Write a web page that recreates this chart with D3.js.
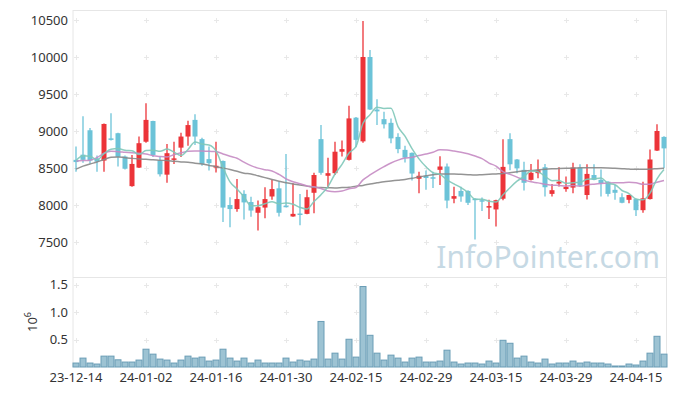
<!DOCTYPE html>
<html>
<head>
<meta charset="utf-8">
<script src="https://cdn.jsdelivr.net/npm/d3@7"></script>
<style>
  body { margin: 0; background: #fff; }
  text { font-family: "Noto Sans", sans-serif; }
</style>
</head>
<body>
<div id="chart"></div>
<script>
// trading days
const dates = [
  "23-12-14","23-12-15","23-12-18","23-12-19","23-12-20","23-12-21","23-12-22","23-12-26","23-12-27","23-12-28",
  "24-01-02","24-01-03","24-01-04","24-01-05","24-01-08","24-01-09","24-01-10","24-01-11","24-01-12","24-01-15",
  "24-01-16","24-01-17","24-01-18","24-01-19","24-01-22","24-01-23","24-01-24","24-01-25","24-01-26","24-01-29",
  "24-01-30","24-01-31","24-02-01","24-02-02","24-02-05","24-02-06","24-02-07","24-02-08","24-02-13","24-02-14",
  "24-02-15","24-02-16","24-02-19","24-02-20","24-02-21","24-02-22","24-02-23","24-02-26","24-02-27","24-02-28",
  "24-02-29","24-03-04","24-03-05","24-03-06","24-03-07","24-03-08","24-03-11","24-03-12","24-03-13","24-03-14",
  "24-03-15","24-03-18","24-03-19","24-03-20","24-03-21","24-03-22","24-03-25","24-03-26","24-03-27","24-03-28",
  "24-03-29","24-04-01","24-04-02","24-04-03","24-04-04","24-04-05","24-04-08","24-04-09","24-04-11","24-04-12",
  "24-04-15","24-04-16","24-04-17","24-04-18","24-04-19"
];

const opens = [
  8610,8680,9010,8630,8600,8900,8970,8655,8255,8505,
  8855,9135,8600,8410,8610,8775,8925,9150,8890,8620,
  8505,8595,8000,7945,8150,8040,7895,7965,8115,8225,
  7990,7845,7885,7880,8165,8890,8395,8430,8720,8610,
  9180,8860,10000,9290,9160,9110,8920,8745,8705,8355,
  8395,8375,8475,8520,8085,8190,8190,8085,8065,7965,
  7940,8085,8890,8615,8475,8340,8430,8510,8150,8290,
  8215,8235,8505,8135,8405,8340,8315,8205,8105,8070,
  8080,7930,8080,8735,8920
];
const highs = [
  8790,9200,9040,8670,9100,9240,8975,8670,8675,8925,
  9375,9140,8655,8825,8855,8975,9140,9225,8910,8790,
  8855,8600,8105,8350,8200,8110,8060,8240,8340,8315,
  8690,8295,8150,8205,8435,9080,8640,8855,8870,9340,
  9190,10485,10095,9430,9260,9170,8970,8800,8710,8450,
  8465,8450,8660,8560,8245,8245,8200,8090,8100,8070,
  8070,8890,8970,8620,8585,8555,8615,8555,8285,8510,
  8385,8570,8550,8550,8550,8480,8320,8270,8160,8140,
  8085,8315,8750,9090,8930
];
const lows = [
  8450,8570,8560,8450,8450,8870,8520,8480,8245,8500,
  8840,8650,8385,8300,8555,8650,8800,8810,8530,8465,
  8440,7770,7700,7910,7805,7840,7655,7820,8070,7845,
  7970,7840,7725,7875,7890,8410,8240,8405,8655,8600,
  8780,8840,9285,9080,9035,8835,8700,8575,8330,8160,
  8205,8230,8270,7955,8025,8045,8000,7535,7920,7810,
  7710,8065,8470,8430,8195,8330,8360,8115,8115,8250,
  8180,8160,8250,8075,8335,8115,8115,8070,8025,8025,
  7850,7895,8075,8730,8495
];
const closes = [
  8580,8610,8600,8585,9095,8880,8650,8490,8555,8835,
  9150,8675,8415,8700,8630,8925,9080,8925,8555,8565,
  8530,7965,7945,8080,8035,7925,7970,8080,8215,7895,
  7975,7880,7870,8105,8405,8435,8430,8720,8755,9170,
  8880,10000,9290,9265,9090,8900,8755,8640,8425,8395,
  8365,8365,8520,8060,8120,8115,8030,8070,8055,7985,
  8065,8515,8550,8495,8300,8435,8470,8240,8200,8315,
  8245,8505,8260,8420,8340,8295,8150,8165,8030,8135,
  7930,8090,8615,9000,8765
];
const volumes = [
  72000,162000,72000,54000,198000,198000,131000,90000,90000,126000,
  324000,234000,144000,126000,72000,126000,198000,162000,180000,108000,
  126000,324000,162000,108000,162000,72000,126000,72000,72000,72000,
  162000,90000,126000,108000,144000,829000,144000,252000,144000,505000,
  180000,1465000,577000,252000,126000,216000,162000,90000,162000,180000,
  90000,90000,108000,306000,90000,54000,72000,72000,54000,108000,
  72000,486000,432000,162000,198000,90000,72000,144000,54000,72000,
  72000,108000,72000,90000,72000,72000,54000,18000,18000,54000,
  36000,108000,252000,559000,234000
];

// moving averages
const ma5 = [
  8600,8665,8660,8610,8694,8754,8762,8740,8734,8682,
  8736,8741,8726,8755,8714,8669,8750,8852,8823,8810,
  8731,8508,8312,8217,8111,7990,7991,8018,8045,8017,
  8027,8009,7967,7945,8047,8139,8249,8419,8549,8702,
  8791,9105,9219,9321,9305,9309,9060,8930,8762,8623,
  8516,8438,8414,8341,8286,8236,8169,8079,8078,8051,
  8041,8138,8234,8322,8385,8459,8450,8388,8329,8332,
  8294,8301,8305,8349,8354,8364,8293,8274,8196,8155,
  8082,8070,8160,8354,8480
];
const ma20 = [
  8595,8600,8605,8640,8700,8725,8720,8712,8705,8698,
  8690,8665,8655,8650,8680,8705,8725,8730,8728,8725,
  8723,8690,8658,8632,8579,8532,8498,8477,8460,8413,
  8354,8315,8287,8258,8246,8222,8189,8179,8189,8219,
  8237,8339,8406,8465,8518,8567,8606,8634,8644,8669,
  8689,8713,8746,8743,8729,8713,8693,8661,8626,8566,
  8526,8451,8414,8376,8336,8313,8299,8279,8268,8264,
  8258,8265,8252,8270,8281,8290,8296,8300,8299,8307,
  8300,8279,8282,8307,8330
];
const ma120 = [
  8485,8525,8555,8580,8615,8645,8650,8640,8630,8622,
  8617,8612,8605,8600,8590,8582,8577,8565,8554,8535,
  8518,8500,8480,8455,8430,8420,8395,8370,8345,8320,
  8300,8285,8270,8255,8240,8235,8233,8230,8235,8240,
  8255,8265,8285,8300,8315,8325,8335,8345,8360,8380,
  8395,8410,8420,8420,8420,8415,8410,8405,8410,8415,
  8420,8425,8435,8450,8460,8465,8475,8482,8490,8492,
  8495,8500,8502,8505,8505,8503,8500,8495,8490,8485,
  8482,8482,8485,8490,8495
];

const priceTicks = [7500, 8000, 8500, 9000, 9500, 10000, 10500];
const volTicks = [0.5, 1.0, 1.5];
const dateTicks = ["23-12-14","24-01-02","24-01-16","24-01-30","24-02-15","24-02-29","24-03-15","24-03-29","24-04-15"];

const width = 677, height = 396;
const plot = {left: 73, right: 666.5, top: 10, mid: 277.5, bottom: 367};

const svg = d3.select("#chart").append("svg")
    .attr("width", width)
    .attr("height", height);

const x = d3.scaleBand()
    .domain(dates)
    .range([72.5, 667.5]);
const bw = x.bandwidth();

const y = d3.scaleLinear()
    .domain([7027, 10635])
    .range([277, 10]);

const yv = d3.scaleLinear()
    .domain([0, 1.62])
    .range([plot.bottom, 278]);

// frame
const frame = svg.append("g").attr("stroke", "#e6e6e6").attr("stroke-width", 1);
frame.append("line").attr("x1", plot.left).attr("x2", plot.left).attr("y1", plot.top).attr("y2", plot.bottom);
frame.append("line").attr("x1", plot.right).attr("x2", plot.right).attr("y1", plot.top).attr("y2", plot.bottom);
frame.append("line").attr("x1", plot.left).attr("x2", plot.right).attr("y1", plot.top + 0.5).attr("y2", plot.top + 0.5);
frame.append("line").attr("x1", plot.left).attr("x2", plot.right).attr("y1", plot.mid).attr("y2", plot.mid);

// grid crosses
const cross = (g, cx, cy) => {
    g.append("line").attr("x1", cx - 2.5).attr("x2", cx + 2.5).attr("y1", cy).attr("y2", cy);
    g.append("line").attr("x1", cx).attr("x2", cx).attr("y1", cy - 2.5).attr("y2", cy + 2.5);
};
const grid = svg.append("g").attr("stroke", "#e8e8e8").attr("stroke-width", 1);
dateTicks.forEach(d => {
    const cx = Math.round(x(d) + bw / 2) + 0.5;
    priceTicks.forEach(p => cross(grid, cx, Math.round(y(p)) + 0.5));
    volTicks.forEach(v => cross(grid, cx, Math.round(yv(v)) + 0.5));
});

// watermark
svg.append("text")
    .attr("x", 660)
    .attr("y", 268)
    .attr("text-anchor", "end")
    .style("font-size", "30px")
    .style("fill", "#c6d9e4")
    .text("InfoPointer.com");

// volume bars
svg.append("g")
    .selectAll("rect")
    .data(dates)
    .enter()
    .append("rect")
    .attr("x", d => x(d) + 0.5)
    .attr("y", (d, i) => yv(volumes[i] / 1e6))
    .attr("width", bw - 1)
    .attr("height", (d, i) => plot.bottom - yv(volumes[i] / 1e6))
    .style("fill", "#9dc3d3")
    .style("stroke", "#6a9db6")
    .style("stroke-width", 1);

// candles
const upColor = "#ec3439", downColor = "#6cc3d8";
const cg = svg.append("g");
dates.forEach((d, i) => {
    const cx = x(d) + bw / 2;
    const col = closes[i] >= opens[i] ? upColor : downColor;
    cg.append("line")
        .attr("x1", cx).attr("x2", cx)
        .attr("y1", y(highs[i])).attr("y2", y(lows[i]))
        .attr("stroke", col)
        .attr("stroke-width", 1.3);
    const y0 = y(Math.max(opens[i], closes[i]));
    const y1 = y(Math.min(opens[i], closes[i]));
    cg.append("rect")
        .attr("x", cx - 2.5)
        .attr("y", y0)
        .attr("width", 5)
        .attr("height", Math.max(1.5, y1 - y0))
        .style("fill", col);
});

// moving averages
const line = d3.line()
    .x((v, i) => x(dates[i]) + bw / 2)
    .y(v => y(v))
    .curve(d3.curveMonotoneX);

[[ma120, "#888888"], [ma20, "#c58bc3"], [ma5, "#80c8b9"]].forEach(([s, c]) => {
    svg.append("path")
        .datum(s)
        .attr("d", line)
        .attr("fill", "none")
        .attr("stroke", c)
        .attr("stroke-width", 1.5)
        .attr("opacity", 0.9);
});

// axes
const styleAxis = g => {
    g.select(".domain").remove();
    g.selectAll("text").style("font-size", "13px").style("fill", "#333");
};

svg.append("g")
    .attr("transform", `translate(${plot.left},0)`)
    .call(d3.axisLeft(y).tickValues(priceTicks).tickSize(0).tickPadding(5).tickFormat(d3.format("d")))
    .call(styleAxis);

svg.append("g")
    .attr("transform", `translate(${plot.left},0)`)
    .call(d3.axisLeft(yv).tickValues(volTicks).tickSize(0).tickPadding(5).tickFormat(d3.format(".1f")))
    .call(styleAxis);

svg.append("g")
    .attr("transform", `translate(0,${plot.bottom})`)
    .call(d3.axisBottom(x).tickValues(dateTicks).tickSize(0).tickPadding(6))
    .call(styleAxis);

// volume unit
const unit = svg.append("text")
    .attr("transform", "translate(37,332) rotate(-90)")
    .style("font-size", "13px")
    .style("fill", "#333");
unit.append("tspan").text("10");
unit.append("tspan").attr("dy", -6).style("font-size", "9px").text("6");
</script>
</body>
</html>
